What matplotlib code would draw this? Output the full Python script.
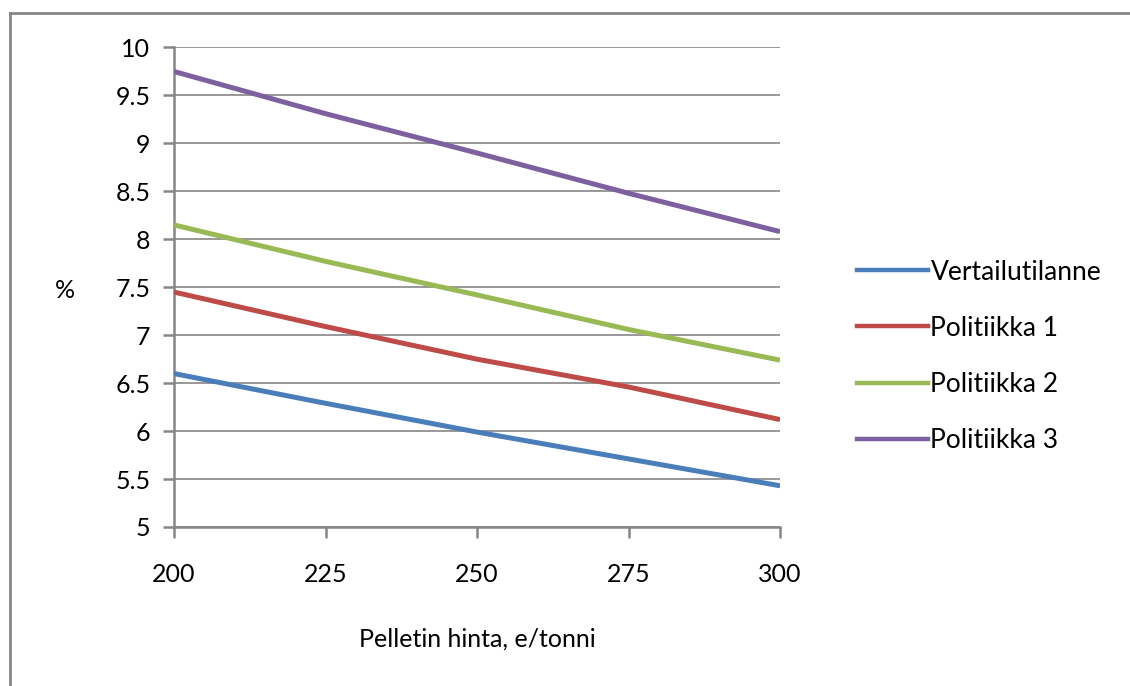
import matplotlib.pyplot as plt
from matplotlib.lines import Line2D

# --- Data ---
price = [200, 225, 250, 275, 300]
vertailu = [6.60, 6.29, 5.99, 5.71, 5.43]
pol1 = [7.45, 7.09, 6.75, 6.46, 6.12]
pol2 = [8.15, 7.77, 7.42, 7.06, 6.74]
pol3 = [9.75, 9.31, 8.90, 8.48, 8.08]

names = ['Vertailutilanne', 'Politiikka 1', 'Politiikka 2', 'Politiikka 3']
colors = ['#4a7ebb', '#be4b48', '#98b954', '#7d60a0']
series = [vertailu, pol1, pol2, pol3]

xticks = [200, 225, 250, 275, 300]
yticks = [5, 5.5, 6, 6.5, 7, 7.5, 8, 8.5, 9, 9.5, 10]

plt.rcParams['font.family'] = ['Lato', 'DejaVu Sans']
grey = '#868686'

W, H = 1130, 686
fig = plt.figure(figsize=(W / 100, H / 100), dpi=100)
ax = fig.add_axes([174 / W, 1 - 527 / H, (780 - 174) / W, (527 - 47.5) / H])

for ys, c, n in zip(series, colors, names):
    ax.plot(price, ys, color=c, lw=3.6, label=n, solid_capstyle='butt', zorder=3)

ax.set_xlim(200, 300)
ax.set_ylim(5, 10)
ax.set_xticks(xticks)
ax.set_yticks(yticks)
ax.set_yticklabels([f'{v:g}' for v in yticks])
ax.grid(axis='y', color=grey, lw=1.2)
ax.set_axisbelow(True)

for s in ['top', 'right']:
    ax.spines[s].set_visible(False)
for s in ['left', 'bottom']:
    ax.spines[s].set_color(grey)
    ax.spines[s].set_linewidth(1.8)

ax.tick_params(axis='both', colors=grey, length=8, width=1.8, direction='out')
ax.tick_params(axis='both', labelcolor='black', labelsize=18)
ax.tick_params(axis='y', pad=9)
ax.tick_params(axis='x', pad=18)

ax.set_xlabel('Pelletin hinta, e/tonni', fontsize=18, labelpad=30)
fig.text(65 / W, 1 - 290 / H, '%', fontsize=18, ha='center', va='center')

handles = [Line2D([], [], color=c, lw=3.2) for c in colors]
fig.legend(handles, names, loc='upper left', bbox_to_anchor=(846 / W, 1 - 249 / H),
           frameon=False, fontsize=19, handlelength=2.7, handletextpad=0.1,
           labelspacing=1.18, borderaxespad=0)

# outer chart border (top and left visible)
fig.add_artist(Line2D([10 / W, 10 / W], [0, 1 - 13 / H], transform=fig.transFigure,
                      color=grey, lw=2))
fig.add_artist(Line2D([10 / W, 1], [1 - 13 / H, 1 - 13 / H], transform=fig.transFigure,
                      color=grey, lw=2))

fig.savefig('out.png', dpi=100)
